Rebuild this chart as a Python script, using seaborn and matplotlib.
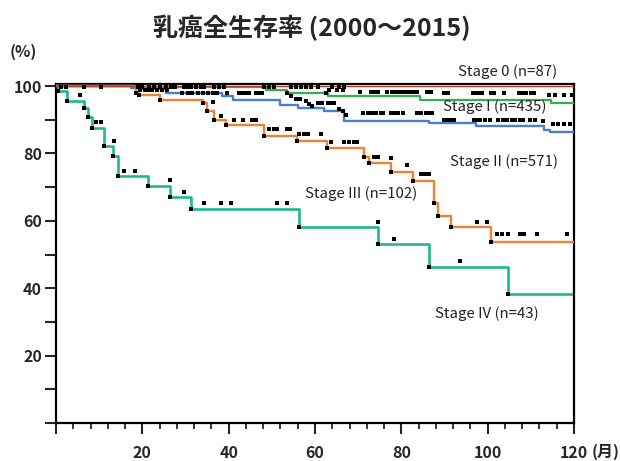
import numpy as np
import pandas as pd
import matplotlib
matplotlib.use('Agg')
import matplotlib.pyplot as plt
from matplotlib.ticker import FixedLocator, FuncFormatter
import seaborn as sns

# Kaplan-Meier step curves (month, survival %)
stage0_t = [0, 120]
stage0_s = [100, 100]

stage1_t = [0, 19.0, 48.6, 53.6, 62.9, 84.3, 114.6, 120]
stage1_s = [100, 99.6, 98.9, 97.9, 96.9, 96.0, 95.0, 95.0]

stage2_t = [0, 17.4, 20.0, 25.5, 38.5, 41.0, 52.0, 56.0, 62.0, 66.7, 86.4, 97.2, 113.0, 114.5, 120]
stage2_s = [100, 99.4, 99.0, 97.9, 97.0, 96.0, 94.5, 93.5, 92.5, 89.7, 88.9, 88.1, 87.0, 86.4, 86.4]

stage3_t = [0, 18.5, 19.3, 24.1, 34.0, 35.0, 36.5, 39.4, 48.1, 55.8, 62.7, 71.4, 72.5,
            77.7, 82.7, 87.6, 88.5, 91.4, 100.7, 120]
stage3_s = [100, 98.0, 97.3, 96.0, 95.0, 92.5, 89.9, 88.4, 85.2, 83.8, 81.5, 79.0, 77.1,
            74.6, 71.9, 65.4, 61.4, 58.1, 53.8, 53.8]

stage4_t = [0, 0.5, 2.5, 6.4, 7.3, 8.3, 11.2, 13.3, 14.4, 21.2, 26.5, 31.2, 56.3, 74.6, 86.5, 104.7, 120]
stage4_s = [100, 98.4, 95.5, 93.5, 90.8, 87.6, 82.2, 79.2, 73.3, 70.3, 67.0, 63.4, 58.3, 53.0, 46.3, 38.4, 38.4]

# censored observations (black squares)
cens0_t = [1.2, 2.3, 6.6, 10.4, 18.9, 20.0, 21.5, 22.8, 24.0, 25.5, 26.6, 27.5, 29.7, 30.5,
           31.3, 32.4, 33.6, 34.3, 36.6, 37.8, 39.0, 48.2, 49.4, 50.5, 54.4, 55.6, 56.7,
           57.9, 59.0, 60.6, 64.0, 65.5, 66.7]
cens0_s = [99.8] * len(cens0_t)

cens1_t = [53.6, 62.5, 63.3, 65.2, 66.4, 70.4, 72.9, 73.7, 74.5, 76.6, 77.9, 78.7, 79.5, 80.3,
           81.0, 81.8, 82.6, 83.6, 86.0, 86.8, 89.9, 90.7, 96.5, 97.2, 98.0, 98.8, 100.7,
           101.4, 103.8, 107.3, 108.0, 108.8, 110.0, 110.7, 114.2, 115.7, 117.7, 119.6]
cens1_s = [97.9, 97.9, 98.9, 98.9, 98.9, 98.2, 98.2, 98.2, 98.2, 98.2, 98.2, 98.2, 98.2, 98.2,
           98.2, 98.2, 98.2, 98.2, 98.2, 98.2, 97.9, 97.9, 97.9, 97.9, 97.9, 97.9, 97.9,
           97.9, 97.9, 97.9, 97.9, 97.9, 97.9, 97.9, 97.4, 97.2, 97.2, 97.2]

cens2_t = [19.5, 20.6, 21.5, 22.3, 23.4, 24.5, 25.8, 29.3, 30.5, 31.6, 32.8, 34.0, 35.1, 36.3,
           37.4, 39.7, 42.4, 43.2, 44.0, 44.7, 46.3, 47.0, 47.8, 54.4, 55.6, 56.6, 57.9,
           58.6, 59.4, 60.6, 61.7, 62.9, 63.7, 64.5, 65.6, 66.4, 67.2, 71.2, 72.3, 73.3,
           74.1, 75.2, 75.8, 77.5, 78.3, 79.2, 80.3, 83.7, 84.5, 85.6, 86.4, 87.2, 89.9,
           90.7, 91.4, 92.2, 96.8, 97.5, 98.3, 99.4, 100.5, 102.5, 103.6, 104.4, 105.6,
           106.4, 107.5, 108.3, 109.8, 111.0, 112.9, 115.2, 116.4, 117.6, 119.1]
cens2_s = [98.8, 98.8, 98.8, 98.8, 98.8, 98.8, 98.8, 97.9, 97.9, 97.9, 97.9, 97.9, 97.9, 97.9,
           97.9, 97.9, 97.9, 97.9, 97.9, 97.9, 97.9, 97.9, 97.9, 96.9, 96.2, 96.2, 95.5,
           94.7, 94.0, 95.0, 95.0, 95.0, 95.0, 95.0, 93.1, 92.5, 91.5, 92.0, 92.0, 92.0,
           92.0, 92.0, 92.0, 92.0, 92.0, 92.0, 92.0, 92.0, 92.0, 92.0, 92.0, 92.0, 90.0,
           90.0, 90.0, 90.0, 90.0, 90.0, 90.0, 90.0, 90.0, 90.0, 90.0, 90.0, 90.0,
           90.0, 90.0, 90.0, 90.0, 90.0, 89.6, 88.8, 88.8, 88.8, 88.8]

cens3_t = [36.3, 38.2, 41.3, 43.4, 45.5, 46.3, 49.4, 50.5, 51.3, 53.5, 54.2, 56.3, 57.5, 58.3,
           61.3, 63.7, 66.7, 67.9, 69.1, 69.8, 73.7, 74.5, 77.5, 81.4, 84.5, 85.4, 86.4,
           97.6, 99.9, 102.2, 103.4, 104.7, 107.6, 108.4, 111.5, 118.4]
cens3_s = [95.2, 91.1, 89.9, 89.9, 89.9, 89.9, 87.1, 87.1, 87.1, 87.1, 87.1, 85.7, 85.7, 85.7,
           85.7, 83.5, 83.5, 83.5, 83.5, 83.5, 79.0, 79.0, 78.7, 76.6, 73.9, 73.9, 73.9,
           59.7, 59.7, 56.1, 56.1, 56.1, 56.1, 56.1, 56.1, 56.1]

cens4_t = [5.6, 9.3, 10.4, 13.4, 15.7, 18.4, 26.5, 29.6, 34.3, 38.3, 40.5, 51.3, 53.5, 74.5, 78.3, 93.6]
cens4_s = [97.3, 89.2, 89.2, 83.8, 74.9, 74.9, 72.1, 68.6, 65.2, 65.2, 65.2, 65.2, 65.2, 59.6, 54.7, 48.0]

stage_labels = ['Stage 0 (n=87)', 'Stage I (n=435)', 'Stage II (n=571)',
                'Stage III (n=102)', 'Stage IV (n=43)']
colors = ['#c0392b', '#2fb24c', '#4a7fd0', '#ee8236', '#1fb98f']

curves = [(stage0_t, stage0_s), (stage1_t, stage1_s), (stage2_t, stage2_s),
          (stage3_t, stage3_s), (stage4_t, stage4_s)]
censors = [(cens0_t, cens0_s), (cens1_t, cens1_s), (cens2_t, cens2_s),
           (cens3_t, cens3_s), (cens4_t, cens4_s)]
widths = [1.0, 1.6, 1.7, 1.7, 1.9]

sns.set_style('ticks')
plt.rcParams['font.family'] = ['Noto Sans CJK JP', 'DejaVu Sans']

fig = plt.figure(figsize=(6.2, 4.61), dpi=100)
ax = fig.add_axes([56 / 620, 1 - 423 / 461, (574 - 56) / 620, (423 - 84) / 461])

# draw from the last stage to the first so Stage 0 sits on top
for i in [4, 3, 2, 1, 0]:
    t, s = curves[i]
    df = pd.DataFrame({'month': t, 'survival': s})
    sns.lineplot(data=df, x='month', y='survival', ax=ax, color=colors[i],
                 linewidth=widths[i], drawstyle='steps-post', estimator=None,
                 sort=False, zorder=2 + (4 - i))
    # event marks at each step
    ev = pd.DataFrame({'month': t[1:-1], 'survival': s[1:-1]})
    if i in (3, 4):
        sns.scatterplot(data=ev, x='month', y='survival', ax=ax, color='black',
                        marker='s', s=7, linewidth=0, zorder=10)

for ct, cs in censors:
    cdf = pd.DataFrame({'month': ct, 'survival': cs})
    sns.scatterplot(data=cdf, x='month', y='survival', ax=ax, color='black',
                    marker='s', s=6, linewidth=0, zorder=10)

ax.set_xlim(0, 120)
ax.set_ylim(0, 100.6)
ax.set_xlabel('')
ax.set_ylabel('')

for sp in ax.spines.values():
    sp.set_visible(True)
    sp.set_linewidth(1.6)
    sp.set_color('black')

ax.yaxis.set_major_locator(FixedLocator(list(range(0, 101, 10))))
ax.yaxis.set_major_formatter(FuncFormatter(lambda v, p: f'{int(v)}' if v > 0 and v % 20 == 0 else ''))
ax.xaxis.set_major_locator(FixedLocator(list(range(0, 121, 20))))
ax.xaxis.set_minor_locator(FixedLocator([m for m in range(0, 121, 4) if m % 20 != 0]))
ax.xaxis.set_major_formatter(FuncFormatter(lambda v, p: f'{int(v)}' if v > 0 else ''))
ax.tick_params(axis='y', which='major', length=8, width=1.5, direction='out', pad=2,
               labelsize=11.5)
ax.tick_params(axis='x', which='major', length=8, width=1.5, direction='out', pad=8,
               labelsize=11.5)
ax.tick_params(axis='x', which='minor', length=4, width=1.3, direction='out')
for lab in ax.get_xticklabels() + ax.get_yticklabels():
    lab.set_fontweight('bold')

# stage labels
label_pos = [(508, 72), (495, 107), (504, 162), (361, 194), (487, 314)]
for txt, (px, py) in zip(stage_labels, label_pos):
    fig.text(px / 620, 1 - py / 461, txt, ha='center', va='center', fontsize=10.8,
             color='#222222')

fig.text(312 / 620, 1 - 28 / 461, '乳癌全生存率 (2000～2015)', ha='center', va='center',
         fontsize=18, fontweight='bold')
fig.text(23 / 620, 1 - 52 / 461, '(%)', ha='center', va='center', fontsize=11.5,
         fontweight='bold')
fig.text(606 / 620, 1 - 452 / 461, '(月)', ha='center', va='center', fontsize=11.5,
         fontweight='bold')

fig.savefig('out.png', dpi=100, facecolor='white')
